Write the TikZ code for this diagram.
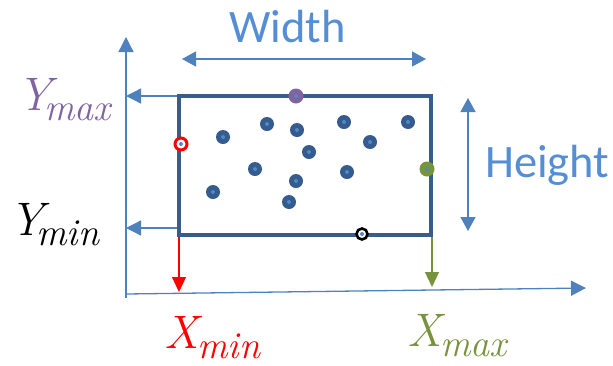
\documentclass[tikz,border=0pt]{standalone}
\usepackage{fontspec}
\setmainfont{Carlito}
\newfontfamily\lmr{Latin Modern Roman}
\usetikzlibrary{arrows.meta}
\definecolor{axisblue}{RGB}{79,129,189}
\definecolor{textblue}{RGB}{85,142,213}
\definecolor{rectblue}{RGB}{56,93,138}
\definecolor{dotblue}{RGB}{52,92,142}
\definecolor{innerblue}{RGB}{84,134,196}
\definecolor{mpurple}{RGB}{128,100,162}
\definecolor{mgreen}{RGB}{119,147,60}
\newcommand{\varsub}[3][-1pt]{{\lmr\itshape\fontsize{47}{47}\selectfont #2\hspace{#1}\raisebox{-10pt}{\fontsize{38}{38}\selectfont #3}}}
\tikzset{
  ax/.style={draw=axisblue, line width=1.3pt, -{Triangle[length=15pt,width=15pt]}},
  dim/.style={draw=axisblue, line width=1.3pt, {Triangle[length=14pt,width=15pt]}-{Triangle[length=14pt,width=15pt]}},
  drop/.style={line width=1.3pt, -{Triangle[length=15pt,width=14pt]}},
  pt/.style={circle, minimum size=14pt, inner sep=0pt, fill=dotblue,
    path picture={\fill[innerblue] (path picture bounding box.center) circle (2pt);}},
  ring/.style={circle, minimum size=13pt, inner sep=0pt, draw=#1, line width=3pt, fill=white,
    path picture={\fill[innerblue] (path picture bounding box.center) circle (2pt);}},
  lab/.style={inner sep=0pt, anchor=base west, font=\fontsize{46.5}{46.5}\selectfont, text=textblue},
  mlab/.style={inner sep=0pt, anchor=base west},
}
\begin{document}
\begin{tikzpicture}[x=1pt,y=-1pt]
\useasboundingbox (0,0) rectangle (613,365);
% axes
\coordinate (o) at (126,298);
\coordinate (ytip) at (126,37);
\coordinate (xo) at (126,294);
\coordinate (xtip) at (586,288);
\draw[ax] (o) -- (ytip);
\draw[ax] (xo) -- (xtip);
% rectangle
\coordinate (tl) at (179,96);
\coordinate (br) at (431,235);
\draw[rectblue, line width=3.6pt] (tl) rectangle (br);
% projection arrows
\coordinate (ymaxs) at (177,96);
\coordinate (ymaxe) at (126,96);
\coordinate (ymins) at (177,228);
\coordinate (ymine) at (126,228);
\draw[ax] (ymaxs) -- (ymaxe);
\draw[ax] (ymins) -- (ymine);
\coordinate (xmins) at (179,237);
\coordinate (xmine) at (179,292);
\coordinate (xmaxs) at (432,237);
\coordinate (xmaxe) at (432,287);
\draw[drop, red] (xmins) -- (xmine);
\draw[drop, mgreen] (xmaxs) -- (xmaxe);
% dimension arrows
\coordinate (wl) at (182,59);
\coordinate (wr) at (426,59);
\draw[dim] (wl) -- (wr);
\coordinate (ht) at (468,98);
\coordinate (hb) at (468,231);
\draw[dim] (ht) -- (hb);
% labels
\node[lab] (width) at (229,42) {Width};
\node[lab] (height) at (485,177) {Height};
\node[mlab, text=mpurple] (ymax) at (17,110) {\varsub[-7pt]{Y}{max}};
\node[mlab, text=black] (ymin) at (9,235) {\varsub[-7pt]{Y}{min}};
\node[mlab, text=red] (xmin) at (164,348) {\varsub{X}{min}};
\node[mlab, text=mgreen] (xmax) at (407,346) {\varsub{X}{max}};
% points
\node[pt] (p1) at (223,137) {};
\node[pt] (p2) at (267,124) {};
\node[pt] (p3) at (297,130) {};
\node[pt] (p4) at (309,152) {};
\node[pt] (p5) at (255,169) {};
\node[pt] (p6) at (296,181) {};
\node[pt] (p7) at (213,192) {};
\node[pt] (p8) at (289,202) {};
\node[pt] (p9) at (344,122) {};
\node[pt] (p10) at (408,122) {};
\node[pt] (p11) at (370,142) {};
\node[pt] (p12) at (347,172) {};
\node[ring=red, minimum size=12pt] (pxmin) at (181,144) {};
\node[pt, fill=mpurple, minimum size=15pt] (pymax) at (296,96) {};
\node[pt, fill=mgreen, minimum size=15pt] (pxmax) at (427,169) {};
\node[ring=black, minimum size=11pt, line width=2.6pt] (pymin) at (362,234) {};
\end{tikzpicture}
\end{document}
